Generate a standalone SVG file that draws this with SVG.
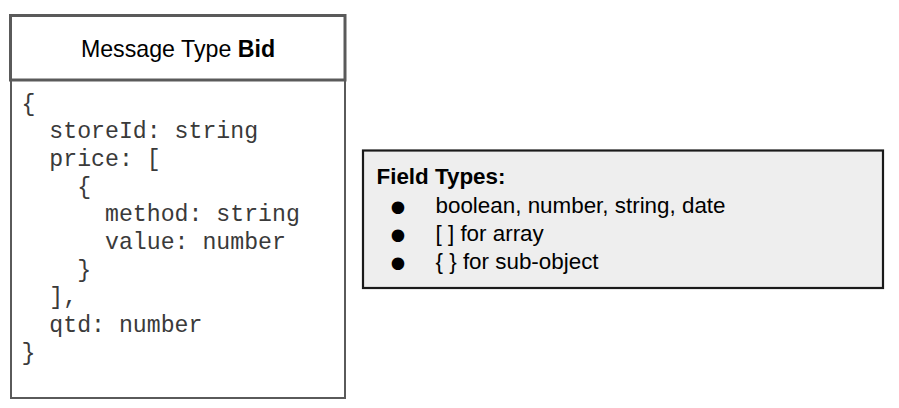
<svg xmlns="http://www.w3.org/2000/svg" width="899" height="408" viewBox="0 0 899 408">
<style>
.hdr{fill:#ffffff;stroke:#5a5a5a;stroke-width:3}
.body{fill:#ffffff;stroke:#5a5a5a;stroke-width:2}
.legend{fill:#eeeeee;stroke:#1a1a1a;stroke-width:2.2}
.sans{font-family:"Liberation Sans",Arial,sans-serif;font-size:22.4px;fill:#000}
.title{font-family:"Liberation Sans",Arial,sans-serif;font-size:23.2px;fill:#000}
.code{font-family:"Liberation Mono","Courier New",monospace;font-size:23.2px;fill:#3a3a3a}
.bul{font-family:"DejaVu Sans",sans-serif;font-size:16.5px;fill:#000}
</style>
<g id="connectors"></g>
<g id="message-body">
<rect class="body" x="11" y="80" width="334" height="318"/>
<text class="code" xml:space="preserve"><tspan x="21.5" y="110.5">{</tspan><tspan x="21.5" y="138.2">  storeId: string</tspan><tspan x="21.5" y="165.9">  price: [</tspan><tspan x="21.5" y="193.6">    {</tspan><tspan x="21.5" y="221.3">      method: string</tspan><tspan x="21.5" y="249">      value: number</tspan><tspan x="21.5" y="276.7">    }</tspan><tspan x="21.5" y="304.4">  ],</tspan><tspan x="21.5" y="332.1">  qtd: number</tspan><tspan x="21.5" y="359.8">}</tspan></text>
</g>
<g id="message-header">
<rect class="hdr" x="10.5" y="15.5" width="334.5" height="64.5"/>
<text class="title" x="178" y="57" text-anchor="middle">Message Type <tspan font-weight="bold">Bid</tspan></text>
</g>
<g id="field-types">
<rect class="legend" x="363" y="150.5" width="520" height="137.5"/>
<text class="sans" x="376.5" y="184.3" font-weight="bold">Field Types:</text>
<text class="bul" x="398" y="211.5" text-anchor="middle">●</text>
<text class="bul" x="398" y="239.5" text-anchor="middle">●</text>
<text class="bul" x="398" y="267.5" text-anchor="middle">●</text>
<text class="sans" x="435.5" y="212.5">boolean, number, string, date</text>
<text class="sans" x="435.5" y="240.5">[ ] for array</text>
<text class="sans" x="435.5" y="268.5">{ } for sub-object</text>
</g>
</svg>
